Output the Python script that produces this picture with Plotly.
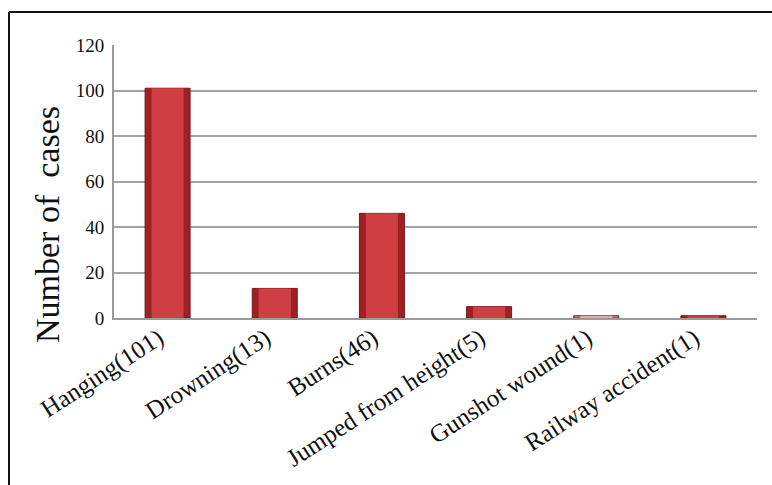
import plotly.graph_objects as go

categories = ["Hanging(101)", "Drowning(13)", "Burns(46)",
              "Jumped from height(5)", "Gunshot wound(1)", "Railway accident(1)"]
cases = [101, 13, 46, 5, 1, 1]
y_ticks = [0, 20, 40, 60, 80, 100, 120]

edge_colors = ["#9e2023", "#9e2023", "#9e2023", "#9e2023", "#d48d90", "#9e2023"]
face_colors = ["#cf3e42", "#cf3e42", "#cf3e42", "#cf3e42", "#e8a8ab", "#cf3e42"]

SERIF = "Liberation Serif, Times New Roman, serif"

W, H = 772, 485
L, R, T, B = 114, 15, 45, 167
pw, ph = W - L - R, H - T - B


def px_x(x):
    return (x - L) / pw


def px_y(y):
    return (H - B - y) / ph


fig = go.Figure()
# darker outer body of each bar
fig.add_trace(go.Bar(
    x=categories, y=cases, width=0.42,
    marker=dict(color=edge_colors, line=dict(color="#7a181b", width=1)),
    hoverinfo="x+y", showlegend=False,
))
# lighter face for the bevelled look
fig.add_trace(go.Bar(
    x=categories, y=cases, width=0.30,
    marker=dict(color=face_colors, line=dict(width=0)),
    hoverinfo="skip", showlegend=False,
))

fig.update_layout(
    width=W, height=H,
    margin=dict(l=L, r=R, t=T, b=B),
    paper_bgcolor="white", plot_bgcolor="white",
    barmode="overlay",
    font=dict(family=SERIF, color="#111111"),
    xaxis=dict(
        type="category", tickangle=-33,
        tickfont=dict(size=25, family=SERIF, color="#111111"),
        showgrid=False, showline=True, linecolor="#9a9a9a", linewidth=2,
        ticks="", ticklabelshift=-9, ticklabelstandoff=-6,
    ),
    yaxis=dict(
        range=[0, 120], tickvals=y_ticks,
        tickfont=dict(size=19, family=SERIF, color="#111111"),
        showgrid=True, gridcolor="#a3a3a3", gridwidth=2,
        showline=True, linecolor="#9a9a9a", linewidth=2,
        zeroline=False, ticks="", ticklabelstandoff=4,
    ),
    annotations=[dict(
        text="Number of  cases", textangle=-90,
        x=px_x(47), y=px_y(225), xref="paper", yref="paper",
        xanchor="center", yanchor="middle",
        showarrow=False, font=dict(size=34, family=SERIF, color="#111111"),
    )],
    shapes=[
        dict(type="line", xref="paper", yref="paper",
             x0=px_x(9), x1=px_x(W + 5), y0=px_y(12), y1=px_y(12),
             line=dict(color="#111111", width=2)),
        dict(type="line", xref="paper", yref="paper",
             x0=px_x(9), x1=px_x(9), y0=px_y(12), y1=px_y(H + 5),
             line=dict(color="#111111", width=2)),
    ],
)

fig.write_html("out.html")
